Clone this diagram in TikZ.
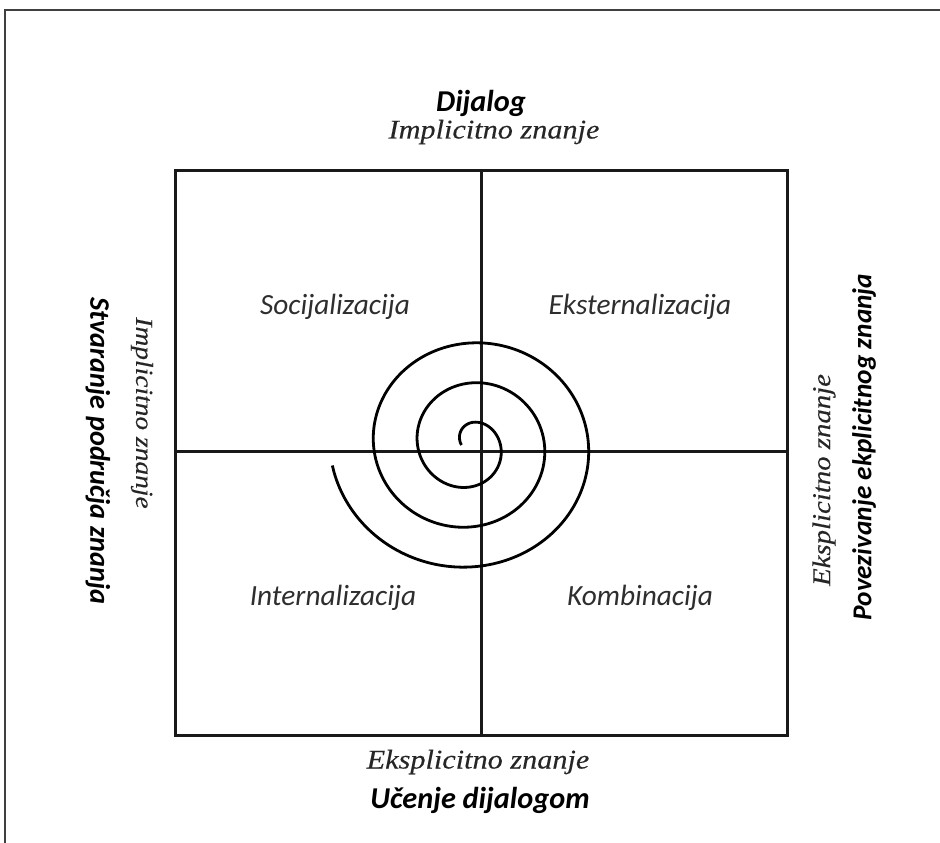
\documentclass[tikz,border=0pt]{standalone}
\usepackage{fontspec}
\setmainfont{Liberation Serif}
\newfontfamily\calfont{Carlito}
\newfontfamily\serfont{Liberation Serif}[FakeStretch=1.12, FakeBold=0.3]
\newcommand{\fsz}[1]{\fontsize{#1}{1.1\dimexpr #1pt\relax}\selectfont}
\begin{document}
\begin{tikzpicture}
        [x=1pt, y=-1pt,
        quad/.style={font=\calfont\itshape\fsz{29.3}, text=black!82},
        head/.style={font=\calfont\bfseries\itshape\fsz{#1}},
        head/.default=30.3,
        sub/.style={font=\serfont\itshape\fsz{#1}, text=black!85},
        sub/.default=27,
        frame/.style={line width=3pt, black!90},
        spiral/.style={line width=2.8pt, line join=round}]
    \useasboundingbox (0,0) rectangle (940,843);
    \draw[line width=1.8pt, black!75] (5,843) -- (5,10) -- (940,10);

    % quadrants
    \coordinate (NW) at (175,170);
    \coordinate (SE) at (787,735);
    \coordinate (C) at (481,451);
    \draw[frame] (NW) rectangle (SE);
    \draw[frame] (C |- NW) -- (C |- SE);
    \draw[frame] (C -| NW) -- (C -| SE);

    \node[quad] (soc) at (335,307) {Socijalizacija};
    \node[quad] (eks) at (640,307) {Eksternalizacija};
    \node[quad] (int) at (333,598) {Internalizacija};
    \node[quad] (kom) at (640,598) {Kombinacija};

    % spiral
    \draw[spiral] plot[domain=-180:891, samples=320, smooth]
        ({470+(30.5+0.12222*\x)*cos(\x)}, {445+(32+0.11111*\x)*sin(\x)});

    % labels round the box
    \node[head] (top) at (481,103) {Dijalog};
    \node[sub] (topsub) at (494,132) {Implicitno znanje};
    \node[sub] (botsub) at (478,762) {Eksplicitno znanje};
    \node[head] (bot) at (480,800) {Učenje dijalogom};
    \node[sub=24.5, rotate=-90] (leftsub) at (142,413) {Implicitno znanje};
    \node[head=28.3, rotate=-90] (left) at (98,451) {Stvaranje područja znanja};
    \node[sub=25.7, rotate=90] (rightsub) at (824,480) {Eksplicitno znanje};
    \node[head=27.3, rotate=90] (right) at (864,447) {Povezivanje ekplicitnog znanja};

\end{tikzpicture}
\end{document}
